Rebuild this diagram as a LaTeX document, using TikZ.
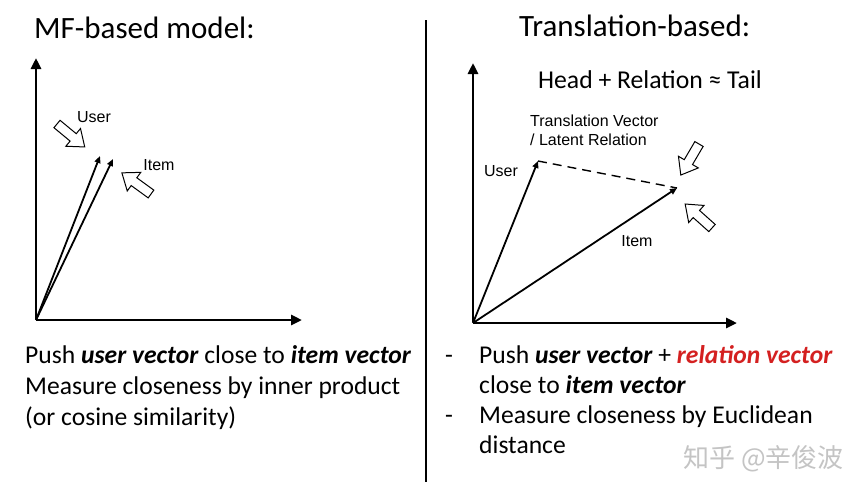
\documentclass[tikz,border=0pt]{standalone}
\usepackage{fontspec}
\setmainfont{Carlito}
\newfontfamily\labelfont{Liberation Sans}
\newfontfamily\cjkfont{Noto Sans CJK SC}
\usetikzlibrary{arrows.meta}
\definecolor{relred}{HTML}{D42020}
\definecolor{wmgray}{HTML}{C4C4C4}
\begin{document}
\begin{tikzpicture}[x=1pt,y=-1pt,
 axis/.style={line width=2.8pt,-{Triangle[length=11pt,width=10pt]}},
 vec/.style={line width=1.8pt,-{Triangle[length=7pt,width=6pt]}},
 lbl/.style={font=\labelfont\fontsize{16}{18}\selectfont, inner sep=0pt},
 title/.style={font=\fontsize{31}{37}\selectfont, anchor=base west, inner sep=0pt},
 body/.style={font=\fontsize{25.6}{30}\selectfont, anchor=base west, inner sep=0pt},
 hollow/.pic={\draw[line width=1pt,fill=white,line join=miter] (0,-4.8)--(21,-4.8)--(21,-11.5)--(36,0)--(21,11.5)--(21,4.8)--(0,4.8)--cycle;}
]
\useasboundingbox (0,0) rectangle (864,491);
\fill[white] (0,0) rectangle (864,491);

% ---------- left panel ----------
\node[title] (t1) at (34,38) {MF-based model:};
\coordinate (o1) at (36,320);
\coordinate (x1) at (302,320);
\coordinate (y1) at (36,58);
\draw[axis] (o1) -- (x1);
\draw[axis] ([yshift=1.4pt]o1) -- (y1);
\coordinate (u1) at (100,156);
\coordinate (i1) at (113,159);
\draw[vec] (o1) -- (u1);
\draw[vec] (o1) -- (i1);
\node[lbl] (lu1) at (94,117) {User};
\node[lbl] (li1) at (159,165) {Item};
\pic[rotate=-39.6] at (57,124) {hollow};
\pic[rotate=144] at (151,194) {hollow};

% ---------- divider ----------
\coordinate (d1) at (426,20);
\coordinate (d2) at (426,482);
\draw[line width=1.5pt] (d1) -- (d2);

% ---------- right panel ----------
\node[title] (t2) at (519,36) {Translation-based:};
\node[font=\fontsize{25.7}{30}\selectfont, anchor=base, inner sep=0pt] (eq) at (650,88) {Head + Relation ≈ Tail};
\coordinate (o2) at (473,323);
\coordinate (x2) at (737,323);
\coordinate (y2) at (473,63);
\draw[axis] (o2) -- (x2);
\draw[axis] ([yshift=1.4pt]o2) -- (y2);
\coordinate (u2) at (538,161);
\coordinate (i2) at (677,188);
\draw[vec] (o2) -- (u2);
\draw[vec] (o2) -- (i2);
\draw[line width=1.4pt, dash pattern=on 9pt off 6pt] (u2) -- (i2);
\node[lbl] (lu2) at (501,171) {User};
\node[lbl] (li2) at (637,241) {Item};
\node[lbl, anchor=base west] (tv1) at (530,126) {Translation Vector};
\node[lbl, anchor=base west] (tv2) at (530,145) {/ Latent Relation};
\pic[rotate=-120.4] at (699,144) {hollow};
\pic[rotate=138.2] at (712,228) {hollow};

% ---------- bottom texts ----------
\node[body] (l1) at (25,363) {Push \textbf{\textit{user vector}} close to \textbf{\textit{item vector}}};
\node[body] (l2) at (25,394) {Measure closeness by inner product};
\node[body] (l3) at (25,425) {(or cosine similarity)};

\node[body] (b1) at (445,363) {-};
\node[body] (r1) at (479,363) {Push \textbf{\textit{user vector}} + \textcolor{relred}{\textbf{\textit{relation vector}}}};
\node[body] (r2) at (479,393) {close to \textbf{\textit{item vector}}};
\node[body] (b2) at (445,423) {-};
\node[body] (r3) at (479,423) {Measure closeness by Euclidean};
\node[body] (r4) at (479,453) {distance};
\node[font=\cjkfont\fontsize{26}{30}\selectfont, text=wmgray, anchor=base west, inner sep=0pt] (wm) at (683,467) {知乎 @辛俊波};
\end{tikzpicture}
\end{document}
